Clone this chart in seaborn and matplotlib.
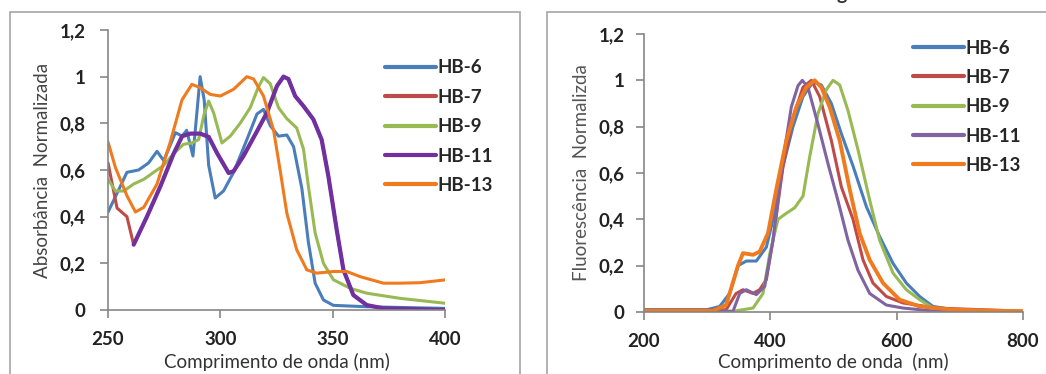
import numpy as np
import pandas as pd
import matplotlib
matplotlib.use("Agg")
import matplotlib.pyplot as plt
import seaborn as sns
from matplotlib.lines import Line2D
from matplotlib.patches import Rectangle

series = ["HB-6", "HB-7", "HB-9", "HB-11", "HB-13"]

# ---- absorption (left panel) ----
abs_hb6_x = [250, 254, 258.4, 263.6, 268, 271.8, 274.8, 280, 283, 285, 287.8, 291, 292.8, 294.8, 297.7, 301.4,
             305.9, 311.8, 316.3, 319.2, 322.2, 325.9, 329.6, 332.6, 336.3, 339.2, 342.2, 345.9, 350.3, 365, 400]
abs_hb6_y = [0.42, 0.50, 0.59, 0.60, 0.63, 0.68, 0.64, 0.76, 0.745, 0.77, 0.66, 1.0, 0.90, 0.62, 0.48, 0.51,
             0.59, 0.73, 0.84, 0.86, 0.79, 0.745, 0.75, 0.70, 0.52, 0.29, 0.115, 0.043, 0.02, 0.014, 0.007]

abs_hb11_x = [261.4, 267.3, 273.3, 279.2, 283, 286.6, 291, 294.8, 298.5, 303.7, 305.9, 310.3, 316.3, 320.7,
              325.2, 328.1, 330.3, 333.3, 337, 341.4, 345.1, 348.1, 351.8, 354.8, 359.2, 365.2, 372.6, 400]
abs_hb11_y = [0.28, 0.40, 0.53, 0.67, 0.745, 0.756, 0.756, 0.742, 0.673, 0.587, 0.595, 0.66, 0.766, 0.845,
              0.96, 1.0, 0.99, 0.917, 0.874, 0.817, 0.73, 0.573, 0.344, 0.172, 0.064, 0.021, 0.007, 0.0]

abs_hb7_x = [250, 254, 258.4] + abs_hb11_x
abs_hb7_y = [0.63, 0.437, 0.40] + abs_hb11_y

abs_hb9_x = [250, 253.3, 257, 261.4, 265.9, 270.3, 274.8, 279.2, 283.6, 287.3, 290.3, 292.8, 294.8, 297,
             300.7, 304.4, 308.8, 313.3, 317, 319.2, 322.2, 325.9, 329.6, 334, 337, 339.2, 342.2, 345.9,
             350.3, 357.8, 365.2, 380, 400]
abs_hb9_y = [0.56, 0.51, 0.51, 0.54, 0.56, 0.59, 0.62, 0.67, 0.71, 0.716, 0.73, 0.84, 0.895, 0.845,
             0.716, 0.745, 0.80, 0.867, 0.957, 0.996, 0.97, 0.867, 0.82, 0.78, 0.69, 0.53, 0.33, 0.20,
             0.13, 0.093, 0.072, 0.05, 0.029]

abs_hb13_x = [250, 253.3, 258.4, 262.2, 265.9, 271.8, 277.7, 282.9, 287.3, 291, 295.5, 300, 305.9, 311.8,
              314.8, 319.2, 323.7, 326.6, 329.6, 334, 338.5, 342.9, 350.3, 356.3, 362.2, 372.6, 380, 388.9, 400]
abs_hb13_y = [0.72, 0.61, 0.49, 0.42, 0.44, 0.54, 0.72, 0.90, 0.967, 0.953, 0.924, 0.917, 0.946, 1.0,
              0.99, 0.917, 0.77, 0.60, 0.415, 0.258, 0.172, 0.158, 0.165, 0.165, 0.143, 0.115, 0.115, 0.117, 0.129]

# ---- fluorescence (right panel) ----
fl_hb6_x = [200, 300, 319.8, 335.6, 348.8, 362, 377.8, 393.7, 406.9, 420, 435.9, 451.7, 467.5, 480.7, 496.6,
            512.4, 530.9, 552, 573, 594.2, 615.3, 636.4, 657.5, 689.2, 800]
fl_hb6_y = [0.01, 0.01, 0.024, 0.08, 0.20, 0.22, 0.22, 0.28, 0.43, 0.63, 0.80, 0.93, 0.993, 0.98, 0.90,
            0.77, 0.63, 0.455, 0.326, 0.21, 0.125, 0.067, 0.024, 0.01, 0.003]

fl_hb7_x = [200, 310, 330, 345.8, 356.7, 372.6, 383, 393.7, 404.2, 420, 435.9, 451.7, 464.9, 478.1, 496.6,
            512.4, 530.9, 546.7, 562.5, 583.6, 610, 662.8, 800]
fl_hb7_y = [0.008, 0.008, 0.01, 0.08, 0.096, 0.08, 0.096, 0.14, 0.31, 0.627, 0.84, 0.97, 1.0, 0.93, 0.74,
            0.54, 0.40, 0.225, 0.125, 0.067, 0.039, 0.017, 0.003]

fl_hb9_x = [200, 340.9, 372.6, 388.4, 399, 412.1, 425.3, 438.5, 451.7, 462.3, 475.4, 488.7, 499.2, 509.8,
            522.9, 538.8, 557.3, 573, 594.2, 615.3, 636.4, 657.5, 689.2, 800]
fl_hb9_y = [0.003, 0.003, 0.017, 0.08, 0.25, 0.40, 0.426, 0.45, 0.50, 0.67, 0.856, 0.96, 1.0, 0.98,
            0.87, 0.70, 0.483, 0.31, 0.168, 0.096, 0.053, 0.017, 0.003, 0.0]

fl_hb11_x = [200, 340.9, 351.5, 362, 377.8, 391, 404.2, 420, 433.2, 443.8, 450.6, 459.6, 475.4, 491.3, 507.1,
             522.9, 538.8, 557.3, 583.6, 610, 662.8, 800]
fl_hb11_y = [0.002, 0.003, 0.08, 0.096, 0.075, 0.11, 0.31, 0.656, 0.885, 0.977, 1.0, 0.97, 0.81, 0.64, 0.48,
             0.31, 0.18, 0.08, 0.03, 0.017, 0.003, 0.0]

fl_hb13_x = [200, 309, 330, 348.8, 356.7, 372.6, 383, 396.3, 409.5, 425.3, 441.2, 457, 470.2, 480.7, 493.9,
             509.8, 525.6, 541.4, 557.3, 578.4, 604.7, 636.4, 689.2, 800]
fl_hb13_y = [0.005, 0.005, 0.03, 0.20, 0.254, 0.247, 0.26, 0.34, 0.53, 0.74, 0.885, 0.97, 1.0, 0.97, 0.885,
             0.74, 0.53, 0.34, 0.225, 0.125, 0.053, 0.024, 0.01, 0.003]

abs_data = {"HB-6": (abs_hb6_x, abs_hb6_y), "HB-7": (abs_hb7_x, abs_hb7_y), "HB-9": (abs_hb9_x, abs_hb9_y),
            "HB-11": (abs_hb11_x, abs_hb11_y), "HB-13": (abs_hb13_x, abs_hb13_y)}
fl_data = {"HB-6": (fl_hb6_x, fl_hb6_y), "HB-7": (fl_hb7_x, fl_hb7_y), "HB-9": (fl_hb9_x, fl_hb9_y),
           "HB-11": (fl_hb11_x, fl_hb11_y), "HB-13": (fl_hb13_x, fl_hb13_y)}

y_ticks = [0, 0.2, 0.4, 0.6, 0.8, 1.0, 1.2]
y_tick_labels = ["0", "0,2", "0,4", "0,6", "0,8", "1", "1,2"]

colors_left = {"HB-6": "#4A7EBB", "HB-7": "#BE4B48", "HB-9": "#98B954", "HB-11": "#7030A0", "HB-13": "#F07A1E"}
widths_left = {"HB-6": 2.2, "HB-7": 2.2, "HB-9": 2.2, "HB-11": 3.0, "HB-13": 2.2}
colors_right = {"HB-6": "#4A7EBB", "HB-7": "#BE4B48", "HB-9": "#98B954", "HB-11": "#8064A2", "HB-13": "#F07A1E"}
widths_right = {"HB-6": 2.2, "HB-7": 2.2, "HB-9": 2.2, "HB-11": 2.2, "HB-13": 2.8}

sns.set_style("white")
plt.rcParams['font.family'] = ['Lato', 'DejaVu Sans']

fig = plt.figure(figsize=(10.46, 3.74), dpi=100)
ax1 = fig.add_axes([0.1033, 0.1711, 0.3221, 0.7487])
ax2 = fig.add_axes([0.6157, 0.1658, 0.3623, 0.7433])

TICK_FS = 13.5
LABEL_FS = 13.5
LEG_FS = 13.5


def draw(ax, data, colors, widths, ypad):
    for name in series:
        xs, ys = data[name]
        df = pd.DataFrame({"x": xs, "y": ys})
        sns.lineplot(data=df, x="x", y="y", ax=ax, color=colors[name], lw=widths[name],
                     sort=False, solid_joinstyle="round", solid_capstyle="round")
    ax.set_ylim(0, 1.2)
    ax.set_yticks(y_ticks)
    ax.set_yticklabels(y_tick_labels, fontweight="bold", fontsize=TICK_FS, color="#222222")
    ax.tick_params(axis="x", labelsize=TICK_FS, labelcolor="#222222", length=6, width=1.2,
                   color="#868686", direction="out", pad=9)
    ax.tick_params(axis="y", length=6, width=1.2, color="#868686", direction="out", pad=ypad)
    ax.tick_params(bottom=True, left=True)
    for s in ["top", "right"]:
        ax.spines[s].set_visible(False)
    for s in ["left", "bottom"]:
        ax.spines[s].set_color("#868686")
        ax.spines[s].set_linewidth(1.2)
    handles = [Line2D([0], [0], color=colors[n], lw=3.0) for n in series]
    return handles


h1 = draw(ax1, abs_data, colors_left, widths_left, 10)
ax1.set_xlim(250, 400)
ax1.set_xticks([250, 300, 350, 400])
for lab in ax1.get_xticklabels():
    lab.set_fontweight("bold")
ax1.set_xlabel("Comprimento de onda (nm)", fontsize=LABEL_FS, color="#333333", labelpad=4)
ax1.set_ylabel("Absorbância  Normalizada", fontsize=LABEL_FS, color="#444444", labelpad=6)
ax1.legend(h1, series, loc="upper left", bbox_to_anchor=(0.822, 0.895), frameon=False,
           borderpad=0, borderaxespad=0, handlelength=2.7, handletextpad=0.1, labelspacing=0.66,
           prop={"weight": "bold", "size": LEG_FS})

h2 = draw(ax2, fl_data, colors_right, widths_right, 8)
ax2.set_xlim(200, 800)
ax2.set_xticks([200, 400, 600, 800])
for lab in ax2.get_xticklabels():
    lab.set_fontweight("bold")
ax2.set_xlabel("Comprimento de onda  (nm)", fontsize=LABEL_FS, color="#333333", labelpad=2.5)
ax2.set_ylabel("Fluorescência  Normalizda", fontsize=LABEL_FS, color="#555555", labelpad=6)
ax2.legend(h2, series, loc="upper left", bbox_to_anchor=(0.71, 0.98), frameon=False,
           borderpad=0, borderaxespad=0, handlelength=2.7, handletextpad=0.1, labelspacing=0.66,
           prop={"weight": "bold", "size": LEG_FS})

# panel frames
fig.add_artist(Rectangle((10 / 1046, -0.05), 510 / 1046, 1.05 - 12 / 374, transform=fig.transFigure,
                         fill=False, edgecolor="#A6A6A6", lw=1.2))
fig.add_artist(Rectangle((547 / 1046, -0.05), 520 / 1046, 1.05 - 12 / 374, transform=fig.transFigure,
                         fill=False, edgecolor="#A6A6A6", lw=1.2))
# fragment of a cropped title above the right panel
fig.text(0.80, 1.0, "g", fontsize=14, fontweight="bold", color="#333333", va="baseline", ha="left")

fig.savefig("out.png", dpi=100)
